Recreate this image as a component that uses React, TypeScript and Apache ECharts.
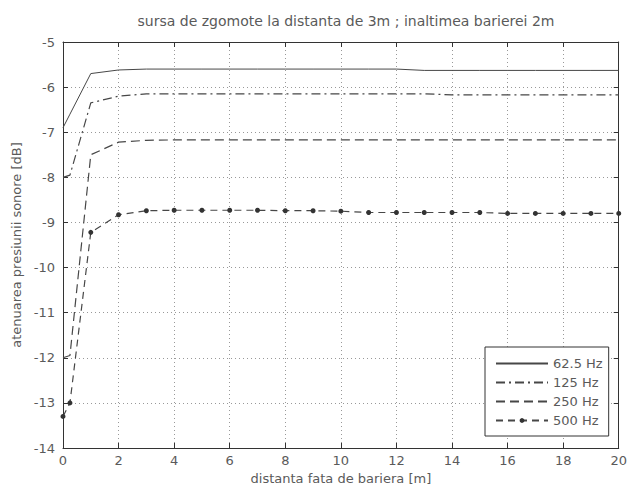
import React, { useEffect, useRef } from "react";
import * as echarts from "echarts";

const distances = [0, 0.25, 1, 2, 3, 4, 5, 6, 7, 8, 9, 10, 11, 12, 13, 14, 15, 16, 17, 18, 19, 20];
const seriesNames = ["62.5 Hz", "125 Hz", "250 Hz", "500 Hz"];
const s62 = [-6.9, -6.6, -5.7, -5.62, -5.6, -5.6, -5.6, -5.6, -5.6, -5.6, -5.6, -5.6, -5.6, -5.6, -5.63, -5.63, -5.63, -5.63, -5.63, -5.63, -5.63, -5.63];
const s125 = [-8.0, -7.95, -6.35, -6.2, -6.15, -6.15, -6.15, -6.15, -6.15, -6.15, -6.15, -6.15, -6.15, -6.15, -6.15, -6.17, -6.17, -6.17, -6.17, -6.17, -6.17, -6.17];
const s250 = [-12.0, -11.95, -7.5, -7.22, -7.18, -7.17, -7.17, -7.17, -7.17, -7.17, -7.17, -7.17, -7.17, -7.17, -7.17, -7.17, -7.17, -7.17, -7.17, -7.17, -7.17, -7.17];
const s500 = [-13.3, -13.0, -9.22, -8.83, -8.74, -8.73, -8.73, -8.73, -8.73, -8.74, -8.74, -8.75, -8.78, -8.78, -8.78, -8.78, -8.78, -8.8, -8.8, -8.8, -8.8, -8.8];
const xTicks = { min: 0, max: 20, interval: 2 };
const yTicks = { min: -14, max: -5, interval: 1 };

const pairs = (ys: number[]) => distances.map((x, i) => [x, ys[i]]);

export default function App() {
  const ref = useRef<HTMLDivElement>(null);
  useEffect(() => {
    if (!ref.current) return;
    const chart = echarts.init(ref.current, null, { renderer: "svg" });
    const txt = "#5a5a5a";
    const lineCol = "#474747";
    const font = "DejaVu Sans";
    const axisCommon = {
      type: "value" as const,
      axisLine: { show: true, onZero: false, lineStyle: { color: "#333", width: 1 } },
      axisTick: { show: true, inside: true, length: 5, lineStyle: { color: "#333" } },
    };
    chart.setOption({
      animation: false,
      backgroundColor: "#fff",
      title: {
        text: "sursa de zgomote la distanta de 3m ; inaltimea barierei 2m",
        left: 341,
        textAlign: "center",
        top: 9,
        textStyle: { fontFamily: font, fontSize: 14, fontWeight: "normal", color: txt },
      },
      grid: { left: 63, right: 7, top: 42, bottom: 41, containLabel: false },
      legend: {
        orient: "vertical",
        left: 485,
        top: 347,
        backgroundColor: "#fff",
        borderColor: "#333",
        borderWidth: 1,
        borderRadius: 0,
        padding: [10, 6, 9, 10],
        itemGap: 6,
        itemWidth: 52,
        itemHeight: 6,
        textStyle: { fontFamily: font, fontSize: 13, color: txt, width: 58 },
        data: [
          { name: seriesNames[0], itemStyle: { opacity: 0 } },
          { name: seriesNames[1], itemStyle: { opacity: 0 } },
          { name: seriesNames[2], itemStyle: { opacity: 0 } },
          { name: seriesNames[3] },
        ],
      },
      xAxis: [
        {
          ...axisCommon,
          min: xTicks.min,
          max: xTicks.max,
          interval: xTicks.interval,
          name: "distanta fata de bariera [m]",
          nameLocation: "middle",
          nameGap: 24,
          nameTextStyle: { fontFamily: font, fontSize: 13, color: txt },
          axisLabel: { fontFamily: font, fontSize: 13, color: txt, margin: 6 },
          splitLine: { show: true, lineStyle: { color: "#999", type: [1, 3] } },
        },
        {
          ...axisCommon,
          position: "top",
          min: xTicks.min,
          max: xTicks.max,
          interval: xTicks.interval,
          axisLabel: { show: false },
          splitLine: { show: false },
        },
      ],
      yAxis: [
        {
          ...axisCommon,
          min: yTicks.min,
          max: yTicks.max,
          interval: yTicks.interval,
          name: "atenuarea presiunii sonore [dB]",
          nameLocation: "middle",
          nameGap: 38,
          nameTextStyle: { fontFamily: font, fontSize: 13, color: txt },
          axisLabel: { fontFamily: font, fontSize: 13, color: txt, margin: 8 },
          splitLine: { show: true, lineStyle: { color: "#999", type: [1, 3] } },
        },
        {
          ...axisCommon,
          position: "right",
          min: yTicks.min,
          max: yTicks.max,
          interval: yTicks.interval,
          axisLabel: { show: false },
          splitLine: { show: false },
        },
      ],
      series: [
        {
          name: seriesNames[0],
          type: "line",
          data: pairs(s62),
          showSymbol: false,
          symbol: "none",
          lineStyle: { color: lineCol, width: 1, type: "solid" },
          itemStyle: { color: lineCol },
        },
        {
          name: seriesNames[1],
          type: "line",
          data: pairs(s125),
          showSymbol: false,
          symbol: "none",
          lineStyle: { color: lineCol, width: 1.2, type: [9, 4, 2, 4] },
          itemStyle: { color: lineCol },
        },
        {
          name: seriesNames[2],
          type: "line",
          data: pairs(s250),
          showSymbol: false,
          symbol: "none",
          lineStyle: { color: lineCol, width: 1.2, type: [9, 5] },
          itemStyle: { color: lineCol },
        },
        {
          name: seriesNames[3],
          type: "line",
          data: pairs(s500),
          showSymbol: true,
          symbol: "circle",
          symbolSize: 5,
          lineStyle: { color: lineCol, width: 1.2, type: [7, 5] },
          itemStyle: { color: "#333" },
        },
      ],
    });
    return () => chart.dispose();
  }, []);
  return <div ref={ref} style={{ width: 630, height: 490, position: "absolute", left: 0, top: 0 }} />;
}
